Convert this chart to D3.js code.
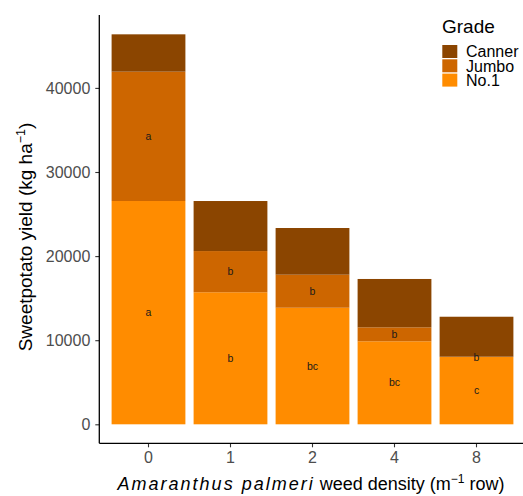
<!DOCTYPE html>
<html><head><meta charset="utf-8">
<script src="https://cdn.jsdelivr.net/npm/d3@7"></script>
<style>body{margin:0;background:#fff}svg{display:block}text{font-family:"Liberation Sans",Arial,sans-serif}</style>
</head><body><svg id="c" width="523" height="496"></svg>
<script>
const categories = ["0","1","2","4","8"];
const grades = ["Canner","Jumbo","No.1"];
const no1 = [26550, 15700, 13860, 9870, 8000];
const jumbo = [15380, 4900, 3930, 1660, 40];
const canner = [4440, 5950, 5550, 5750, 4750];
const no1Letters = ["a","b","bc","bc","c"];
const jumboLetters = ["a","b","b","b","b"];
const yTicks = [0, 10000, 20000, 30000, 40000];
const colors = {"Canner":"#8B4500","Jumbo":"#CD6600","No.1":"#FF8C00"};

const svg = d3.select("#c");
const x = d3.scaleBand().domain(categories).range([99.3, 525.7]).paddingInner(0.1).paddingOuter(0.15);
const y = d3.scaleLinear().domain([0, 40000]).range([424.3, 87.9]);

const rows = categories.map((c,i)=>({cat:c, "No.1":no1[i], "Jumbo":jumbo[i], "Canner":canner[i]}));
const stack = d3.stack().keys(["No.1","Jumbo","Canner"])(rows);

const g = svg.append("g");
stack.forEach(layer=>{
  g.selectAll(null).data(layer).join("rect")
    .attr("x", d=>x(d.data.cat)).attr("width", x.bandwidth())
    .attr("y", d=>y(d[1])).attr("height", d=>y(d[0])-y(d[1]))
    .attr("fill", colors[layer.key]);
});
// letters
const letterLayers = [{key:"No.1", letters:no1Letters},{key:"Jumbo", letters:jumboLetters}];
letterLayers.forEach(L=>{
  const layer = stack.find(s=>s.key===L.key);
  g.selectAll(null).data(layer).join("text")
    .attr("x", d=>x(d.data.cat)+x.bandwidth()/2)
    .attr("y", d=>y((d[0]+d[1])/2))
    .attr("dy","0.35em").attr("text-anchor","middle")
    .attr("font-size", 10.5).attr("fill","#1a1a1a")
    .text((d,i)=>L.letters[i]);
});

// axes
const yAxis = svg.append("g").attr("transform","translate(99.3,0)")
  .call(d3.axisLeft(y).tickValues(yTicks).tickSize(4).tickPadding(5).tickFormat(d3.format("d")));
yAxis.select(".domain").remove();
svg.append("line").attr("x1",99.3).attr("x2",99.3).attr("y1",15).attr("y2",443.3).attr("stroke","#000").attr("stroke-width",1.3);
const xAxis = svg.append("g").attr("transform","translate(0,443.3)")
  .call(d3.axisBottom(x).tickSize(4).tickPadding(4));
xAxis.select(".domain").remove();
svg.append("line").attr("x1",99.3).attr("x2",530).attr("y1",443.3).attr("y2",443.3).attr("stroke","#000").attr("stroke-width",1.3);
[yAxis,xAxis].forEach(a=>{
  a.selectAll(".tick line").attr("stroke","#333").attr("stroke-width",1.1);
  a.selectAll(".tick text").attr("fill","#4d4d4d").attr("font-size",16).style("font-family","'Liberation Sans',Arial,sans-serif");
});

// titles
const yt = svg.append("text").attr("transform","translate(31.5,237) rotate(-90)").attr("text-anchor","middle")
  .attr("font-size",19).attr("fill","#000");
yt.append("tspan").text("Sweetpotato yield (kg ha");
yt.append("tspan").attr("font-size",12.5).attr("dy",-7).text("\u22121");
yt.append("tspan").attr("dy",7).text(")");

const xt = svg.append("text").attr("x",311).attr("y",490).attr("text-anchor","middle").attr("font-size",18).attr("fill","#000");
xt.append("tspan").attr("font-style","italic").attr("letter-spacing",2).text("Amaranthus palmeri");
xt.append("tspan").text(" weed density (m");
xt.append("tspan").attr("font-size",12).attr("dy",-7).text("\u22121");
xt.append("tspan").attr("dy",7).text(" row)");

// legend
const lg = svg.append("g");
lg.append("text").attr("x",442).attr("y",33).attr("font-size",19).attr("fill","#000").text("Grade");
grades.forEach((k,i)=>{
  lg.append("rect").attr("x",442.3).attr("y",45+i*14.3).attr("width",15).attr("height",13).attr("fill",colors[k]);
  lg.append("text").attr("x",466).attr("y",51.7+i*14.3).attr("dy","0.35em").attr("font-size",16).attr("fill","#000").text(k);
});
</script></body></html>
